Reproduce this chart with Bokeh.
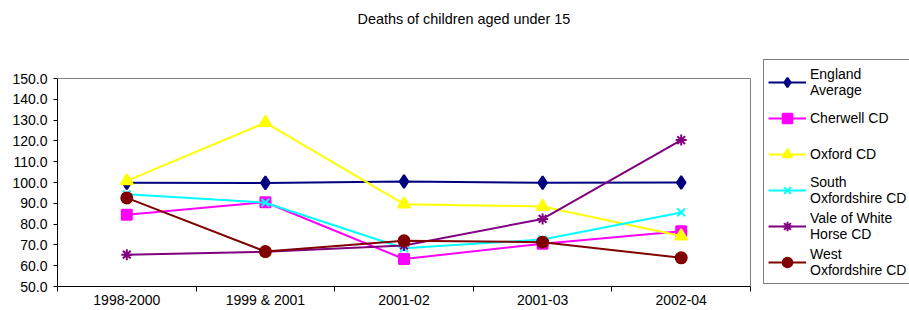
from bokeh.plotting import figure
from bokeh.models import (Range1d, FixedTicker, NumeralTickFormatter, Legend, LegendItem, Title)
from bokeh.embed import file_html
from bokeh.resources import INLINE

categories = ["1998-2000", "1999 & 2001", "2001-02", "2001-03", "2002-04"]
england = [99.9, 99.8, 100.5, 99.9, 100.0]
cherwell = [84.5, 90.5, 63.2, 70.6, 76.6]
oxford = [100.8, 128.8, 89.6, 88.5, 74.3]
south_oxon = [94.3, 90.3, 68.4, 72.6, 85.6]
vale = [65.3, 66.7, 69.7, 82.5, 120.4]
west_oxon = [92.6, 66.8, 72.0, 71.3, 63.8]
y_ticks = [50, 60, 70, 80, 90, 100, 110, 120, 130, 140, 150]

FONT = "Liberation Sans"
W, H = 909, 310
LEFT, TOP, BOTTOM = 57, 55, 24
PLOT_RIGHT_PX, PLOT_TOP_PX = 750, 78      # edges of the plotting area (pixels)
frame_w = W - LEFT
frame_h = H - TOP - BOTTOM

x_lo, x_hi = 0, len(categories)
y_lo, y_hi = y_ticks[0], y_ticks[-1]
x_end = x_hi * frame_w / (PLOT_RIGHT_PX - LEFT)
y_end = y_hi + (PLOT_TOP_PX - TOP) * (y_hi - y_lo) / ((H - BOTTOM) - PLOT_TOP_PX)

x = [i + 0.5 for i in range(len(categories))]

p = figure(width=W, height=H, output_backend="svg", toolbar_location=None,
           x_range=Range1d(x_lo, x_end), y_range=Range1d(y_lo, y_end),
           min_border_left=LEFT, min_border_right=0, min_border_top=TOP, min_border_bottom=BOTTOM,
           background_fill_color="white", border_fill_color="white")
p.title.visible = False
spacer = Title(text=" ", text_font_size="20px", standoff=0)
p.add_layout(spacer, "above")
t = Title(text="Deaths of children aged under 15", text_font=FONT, text_font_size="14.4px",
          text_font_style="normal", text_color="black", align="left", offset=300)
p.add_layout(t, "above")

p.outline_line_color = None
p.xgrid.visible = False
p.ygrid.visible = False

# grey border of the plotting area (top and right edges)
p.segment(x0=[x_lo, x_hi], y0=[y_hi, y_lo], x1=[x_hi, x_hi], y1=[y_hi, y_hi],
          line_color="#808080", line_width=1)

xa = p.xaxis[0]
xa.bounds = (x_lo, x_hi)
xa.ticker = FixedTicker(ticks=x, minor_ticks=list(range(x_lo, x_hi + 1)))
xa.major_label_overrides = {xi: c for xi, c in zip(x, categories)}
xa.major_tick_out = 0
xa.major_tick_in = 0
xa.minor_tick_out = 5
xa.minor_tick_in = 0
xa.minor_tick_line_color = "black"
xa.axis_line_color = "black"
xa.major_label_standoff = 0
xa.major_label_text_font = FONT
xa.major_label_text_font_size = "14px"
xa.major_label_text_color = "black"

ya = p.yaxis[0]
ya.bounds = (y_lo, y_hi)
ya.ticker = FixedTicker(ticks=y_ticks, minor_ticks=[])
ya.formatter = NumeralTickFormatter(format="0.0")
ya.major_tick_out = 4
ya.major_tick_in = 0
ya.major_tick_line_color = "black"
ya.axis_line_color = "black"
ya.major_label_standoff = 6
ya.major_label_text_font = FONT
ya.major_label_text_font_size = "14px"
ya.major_label_text_color = "black"

series = [
    ("England\nAverage", england, "#000080", "diamond", 13),
    ("Cherwell CD", cherwell, "#FF00FF", "square", 10),
    ("Oxford CD", oxford, "#FFFF00", "triangle", 12),
    ("South\nOxfordshire CD", south_oxon, "#00FFFF", "x", 11),
    ("Vale of White\nHorse CD", vale, "#800080", "asterisk", 11),
    ("West\nOxfordshire CD", west_oxon, "#800000", "circle", 11),
]

items = []
for label, vals, color, marker, size in series:
    ln = p.line(x, vals, line_color=color, line_width=2)
    sc = p.scatter(x, vals, marker=marker, size=size,
                   fill_color=color, line_color=color, line_width=2)
    items.append(LegendItem(label=label, renderers=[ln, sc]))

legend = Legend(items=items, location=(706, 2), orientation="vertical",
                label_text_font=FONT, label_text_font_size="14px", label_text_color="black",
                glyph_width=38, glyph_height=24, label_height=35, spacing=1,
                label_standoff=4, padding=4, margin=0,
                border_line_color="black", border_line_width=1,
                background_fill_color="white", background_fill_alpha=1.0)
p.add_layout(legend, "center")

open("out.html", "w").write(file_html(p, INLINE))
